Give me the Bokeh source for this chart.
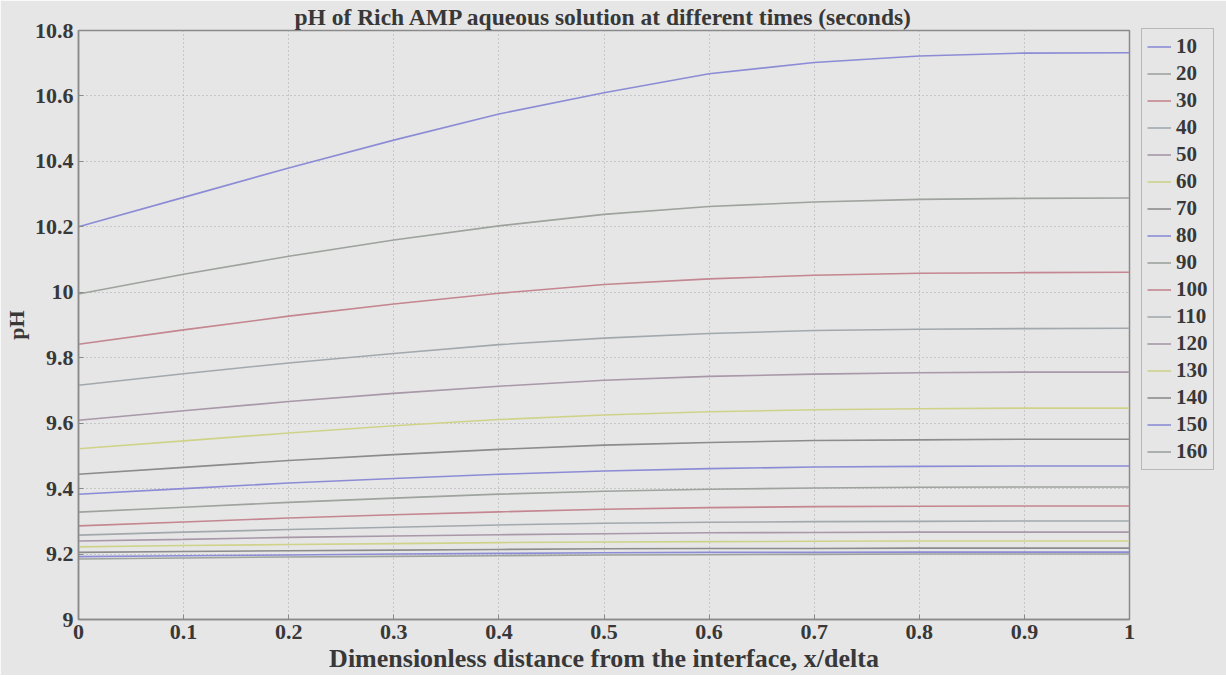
from bokeh.plotting import figure
from bokeh.models import Legend, LegendItem, FixedTicker
from bokeh.embed import file_html
from bokeh.resources import INLINE

# ---------------- data ----------------
x_vals = [0.0, 0.1, 0.2, 0.3, 0.4, 0.5, 0.6, 0.7, 0.8, 0.9, 1.0]
times = ["10", "20", "30", "40", "50", "60", "70", "80",
         "90", "100", "110", "120", "130", "140", "150", "160"]

ph_10 = [10.200, 10.290, 10.380, 10.465, 10.545, 10.610, 10.668, 10.702, 10.722, 10.731, 10.732]
ph_20 = [9.995, 10.055, 10.110, 10.160, 10.203, 10.238, 10.262, 10.276, 10.284, 10.287, 10.288]
ph_30 = [9.841, 9.885, 9.927, 9.964, 9.997, 10.024, 10.041, 10.052, 10.058, 10.060, 10.061]
ph_40 = [9.716, 9.751, 9.784, 9.813, 9.840, 9.860, 9.874, 9.883, 9.887, 9.889, 9.890]
ph_50 = [9.609, 9.638, 9.666, 9.691, 9.713, 9.731, 9.743, 9.750, 9.754, 9.756, 9.756]
ph_60 = [9.522, 9.546, 9.570, 9.592, 9.611, 9.625, 9.635, 9.641, 9.644, 9.646, 9.646]
ph_70 = [9.444, 9.465, 9.486, 9.504, 9.520, 9.533, 9.541, 9.547, 9.549, 9.551, 9.551]
ph_80 = [9.383, 9.400, 9.417, 9.431, 9.444, 9.454, 9.461, 9.466, 9.468, 9.469, 9.469]
ph_90 = [9.328, 9.343, 9.358, 9.371, 9.383, 9.392, 9.398, 9.402, 9.404, 9.405, 9.405]
ph_100 = [9.286, 9.298, 9.310, 9.320, 9.329, 9.337, 9.342, 9.345, 9.346, 9.347, 9.347]
ph_110 = [9.258, 9.267, 9.275, 9.282, 9.289, 9.294, 9.297, 9.299, 9.300, 9.301, 9.301]
ph_120 = [9.240, 9.245, 9.251, 9.255, 9.259, 9.262, 9.265, 9.266, 9.267, 9.267, 9.267]
ph_130 = [9.222, 9.226, 9.229, 9.232, 9.235, 9.237, 9.238, 9.239, 9.240, 9.240, 9.240]
ph_140 = [9.205, 9.208, 9.210, 9.212, 9.214, 9.216, 9.217, 9.217, 9.218, 9.218, 9.218]
ph_150 = [9.192, 9.195, 9.197, 9.200, 9.202, 9.204, 9.205, 9.205, 9.206, 9.206, 9.206]
ph_160 = [9.185, 9.188, 9.191, 9.193, 9.195, 9.197, 9.198, 9.199, 9.200, 9.200, 9.200]

series = [ph_10, ph_20, ph_30, ph_40, ph_50, ph_60, ph_70, ph_80,
          ph_90, ph_100, ph_110, ph_120, ph_130, ph_140, ph_150, ph_160]

x_ticks = [0, 0.1, 0.2, 0.3, 0.4, 0.5, 0.6, 0.7, 0.8, 0.9, 1]
x_tick_labels = ["0", "0.1", "0.2", "0.3", "0.4", "0.5", "0.6", "0.7", "0.8", "0.9", "1"]
y_ticks = [9, 9.2, 9.4, 9.6, 9.8, 10, 10.2, 10.4, 10.6, 10.8]
y_tick_labels = ["9", "9.2", "9.4", "9.6", "9.8", "10", "10.2", "10.4", "10.6", "10.8"]

# MATLAB b, g, r, c, m, y, k cycle (faded as in the scan)
palette = ["#8c8cd6", "#9ea39e", "#c48690", "#a2a9ad", "#a898a8", "#cfd38a", "#8c8c8c"]

# ---------------- figure ----------------
BG = "#e6e6e6"
TXT = "#383838"
FONT = "Liberation Serif"

p = figure(frame_width=1051, frame_height=589, output_backend="svg", toolbar_location=None,
           x_range=(0, 1), y_range=(9, 10.8),
           title="pH of Rich AMP aqueous solution at different times (seconds)")
p.min_border_left = 72
p.min_border_right = 86
p.min_border_top = 27
p.min_border_bottom = 55
p.background_fill_color = BG
p.border_fill_color = BG
p.outline_line_color = "#8a8a8a"
p.outline_line_width = 1.5

p.title.align = "center"
p.title.text_font = FONT
p.title.text_font_size = "23.5px"
p.title.text_font_style = "bold"
p.title.text_color = TXT
p.title.standoff = 2

p.xaxis.ticker = FixedTicker(ticks=x_ticks)
p.yaxis.ticker = FixedTicker(ticks=y_ticks)
p.xaxis.major_label_overrides = dict(zip(x_ticks, x_tick_labels))
p.yaxis.major_label_overrides = dict(zip(y_ticks, y_tick_labels))

for ax in (p.xaxis, p.yaxis):
    ax.axis_line_color = "#8a8a8a"
    ax.axis_line_width = 1.5
    ax.major_tick_in = 5
    ax.major_tick_out = 0
    ax.minor_tick_line_color = None
    ax.major_tick_line_color = "#8a8a8a"
    ax.major_label_text_font = FONT
    ax.major_label_text_font_size = "22px"
    ax.major_label_text_font_style = "bold"
    ax.major_label_text_color = TXT
    ax.axis_label_text_font = FONT
    ax.axis_label_text_font_style = "bold"
    ax.axis_label_text_color = TXT

p.xaxis.axis_label = "Dimensionless distance from the interface, x/delta"
p.yaxis.axis_label = "pH"
p.xaxis.axis_label_text_font_size = "26px"
p.yaxis.axis_label_text_font_size = "22px"
p.xaxis.major_label_standoff = 5
p.xaxis.axis_label_standoff = 2
p.yaxis.major_label_standoff = 5
p.yaxis.axis_label_standoff = 3

p.grid.grid_line_color = "#a8a8a8"
p.grid.grid_line_dash = "1 3"
p.grid.grid_line_width = 1

items = []
for i, (t, ys) in enumerate(zip(times, series)):
    r = p.line(x_vals, ys, line_color=palette[i % 7], line_width=1.6)
    items.append(LegendItem(label=t, renderers=[r]))

legend = Legend(items=items, location=(12, 149))
legend.background_fill_color = BG
legend.background_fill_alpha = 1
legend.border_line_color = "#8a8a8a"
legend.border_line_width = 1.5
legend.label_text_font = FONT
legend.label_text_font_size = "21px"
legend.label_text_font_style = "bold"
legend.label_text_color = TXT
legend.glyph_width = 24
legend.glyph_height = 23
legend.label_height = 23
legend.spacing = 2
legend.padding = 5
legend.margin = 0
legend.label_standoff = 5
p.add_layout(legend, "right")

open("out.html", "w").write(file_html(p, INLINE))
